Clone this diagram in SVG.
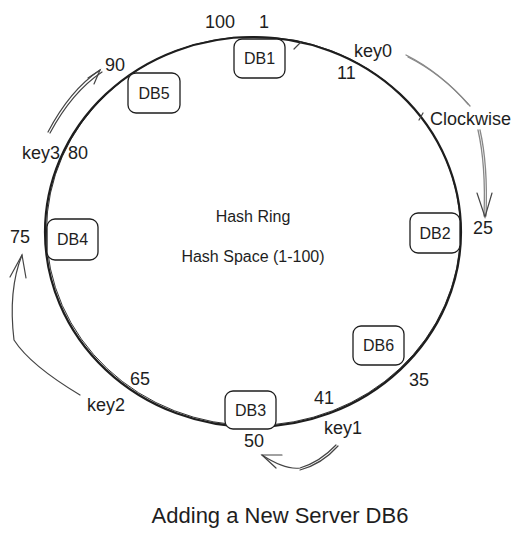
<svg xmlns="http://www.w3.org/2000/svg" width="528" height="539" viewBox="0 0 528 539">
<style>
text{font-family:"Liberation Sans",Arial,sans-serif;fill:#1e1e1e}
.lbl{font-size:18px}
.node rect{fill:#fff;stroke:#1e1e1e;stroke-width:1.3}
.node text{font-size:16px;text-anchor:middle}
.ring{fill:none;stroke:#1e1e1e}
.arr{fill:none;stroke:#444;stroke-width:1.2;stroke-linecap:round}
.gray{fill:none;stroke:#888;stroke-width:1.3;stroke-linecap:round}
</style>
<rect width="528" height="539" fill="#fff"/>
<g id="ring">
<ellipse class="ring" cx="253" cy="232" rx="208" ry="195" stroke-width="2.2"/>
<ellipse class="ring" cx="253.5" cy="231" rx="207" ry="194.5" stroke-width="0.9"/>
</g>
<g id="connectors">
<path class="gray" d="M406 55 Q440 72 468 104"/>
<path class="gray" d="M408 57 Q442 74 470 106"/>
<path class="gray" d="M478 130 Q486 165 484 216"/>
<path class="gray" d="M480 130 Q488 165 486 216"/>
<path class="arr" d="M477 193 L485 217 L492 193"/>
<path class="arr" d="M48 132 Q70 90 100 70"/>
<path class="arr" d="M50 133 Q72 92 102 72"/>
<path class="arr" d="M88 78 L100 70 L94 84"/>
<path class="arr" d="M80 395 Q30 365 14 340 Q8 290 22 255"/>
<path class="arr" d="M10 277 L22 255 L26 278"/>
<path class="arr" d="M336 445 Q320 462 300 468 Q285 470 262 455"/>
<path class="arr" d="M338 446 Q322 464 300 470"/>
<path class="arr" d="M282 455 L262 455 L276 468"/>
<path class="arr" d="M294 49 L301 42"/>
<path class="arr" d="M419 120 L423 113"/>
</g>
<g id="db1" class="node"><rect x="234" y="39" width="51" height="39" rx="8"/><text x="259.5" y="64">DB1</text></g>
<g id="db5" class="node"><rect x="128" y="73" width="52" height="40" rx="8"/><text x="154" y="99">DB5</text></g>
<g id="db2" class="node"><rect x="410" y="213" width="50" height="40" rx="8"/><text x="435" y="239">DB2</text></g>
<g id="db4" class="node"><rect x="47" y="219" width="51" height="41" rx="8"/><text x="72.5" y="245">DB4</text></g>
<g id="db6" class="node"><rect x="353" y="326" width="51" height="39" rx="8"/><text x="378.5" y="351">DB6</text></g>
<g id="db3" class="node"><rect x="225" y="391" width="51" height="38" rx="8"/><text x="250.5" y="416">DB3</text></g>
<g id="labels">
<text class="lbl" x="205" y="28">100</text>
<text class="lbl" x="259" y="28">1</text>
<text class="lbl" x="354" y="57">key0</text>
<text class="lbl" x="337" y="79">11</text>
<text class="lbl" x="105" y="71">90</text>
<text class="lbl" x="22" y="159">key3</text>
<text class="lbl" x="68" y="159">80</text>
<text class="lbl" x="10" y="243" font-size="15">75</text>
<text class="lbl" x="430" y="125">Clockwise</text>
<text class="lbl" x="473" y="234" font-size="16">25</text>
<text x="253" y="222" font-size="16" text-anchor="middle">Hash Ring</text>
<text x="253" y="262" font-size="16" text-anchor="middle">Hash Space (1-100)</text>
<text class="lbl" x="409" y="386">35</text>
<text class="lbl" x="314" y="404">41</text>
<text class="lbl" x="130" y="385">65</text>
<text class="lbl" x="87" y="411">key2</text>
<text class="lbl" x="324" y="434">key1</text>
<text class="lbl" x="244" y="447" font-size="15">50</text>
<text x="280" y="523" font-size="22" text-anchor="middle">Adding a New Server DB6</text>
</g>
</svg>
